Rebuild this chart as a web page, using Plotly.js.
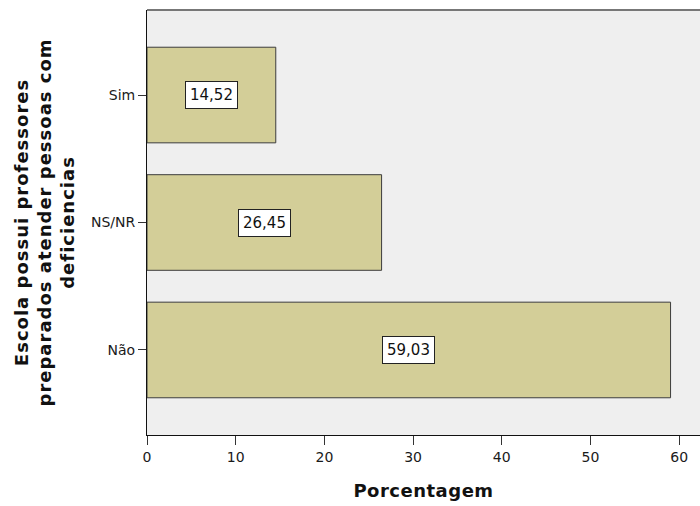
<!DOCTYPE html>
<html>
<head>
<meta charset="utf-8">
<script src="https://cdn.plot.ly/plotly-3.0.1.min.js"></script>
<style>
html,body{margin:0;padding:0;background:#fff}
#chart{width:700px;height:506px}
#chart .annotation[data-index="0"] text{letter-spacing:1px}
#chart .xtitle{letter-spacing:0.5px}
</style>
</head>
<body>
<div id="chart"></div>
<script>
var categories = ["Não", "NS/NR", "Sim"];
var values = [59.03, 26.45, 14.52];
var xTicks = [0, 10, 20, 30, 40, 50, 60];
var yTitle = 'Escola possui professores<br>preparados atender pessoas com<br>deficiencias';
var xTitle = 'Porcentagem';

var fmt = function(v){ return v.toFixed(2).replace('.', ','); };
var tickFont = 'DejaVu Sans, Verdana, sans-serif';
var titleFont = {family: 'DejaVu Sans, Verdana, sans-serif', size: 18, color: '#111', weight: 'bold'};

var trace = {
  type: 'bar',
  orientation: 'h',
  x: values,
  y: categories,
  width: 0.75,
  marker: {color: '#d3ce98', line: {color: '#3c3c3c', width: 1}},
  hoverinfo: 'none'
};

var annotations = [{
  x: 0, y: 0.5, xref: 'paper', yref: 'paper', xanchor: 'center', yanchor: 'middle',
  xshift: -103, textangle: -90, text: yTitle, showarrow: false, font: titleFont
}].concat(values.map(function(v, i){
  return {
    x: v / 2, y: categories[i], xref: 'x', yref: 'y',
    text: fmt(v), showarrow: false,
    font: {family: tickFont, size: 15, color: '#111'},
    bgcolor: '#ffffff', bordercolor: '#222', borderwidth: 1, borderpad: 4
  };
}));

var layout = {
  width: 700, height: 506,
  margin: {l: 147, r: 0, t: 10, b: 71},
  paper_bgcolor: '#ffffff',
  plot_bgcolor: '#efefef',
  showlegend: false,
  xaxis: {
    range: [0, 62.35], tickvals: xTicks, ticktext: xTicks.map(String),
    showgrid: false, zeroline: false, showline: true, linecolor: '#111', linewidth: 1,
    ticks: 'outside', ticklen: 9, tickcolor: '#333', tickwidth: 1,
    tickfont: {family: tickFont, size: 14, color: '#1a1a1a'},
    title: {text: xTitle, font: titleFont, standoff: 20}
  },
  yaxis: {
    type: 'category', categoryorder: 'array', categoryarray: categories,
    range: [-0.667, 2.667],
    showgrid: false, zeroline: false, showline: true, linecolor: '#111', linewidth: 1,
    ticks: 'outside', ticklen: 8, tickcolor: '#333', tickwidth: 1,
    tickfont: {family: tickFont, size: 14, color: '#1a1a1a'}
  },
  annotations: annotations,
  shapes: [{type: 'line', xref: 'paper', yref: 'paper', x0: 0, x1: 1, y0: 1, y1: 1, line: {color: '#777', width: 2}}]
};

Plotly.newPlot('chart', [trace], layout, {staticPlot: true});
</script>
</body>
</html>
